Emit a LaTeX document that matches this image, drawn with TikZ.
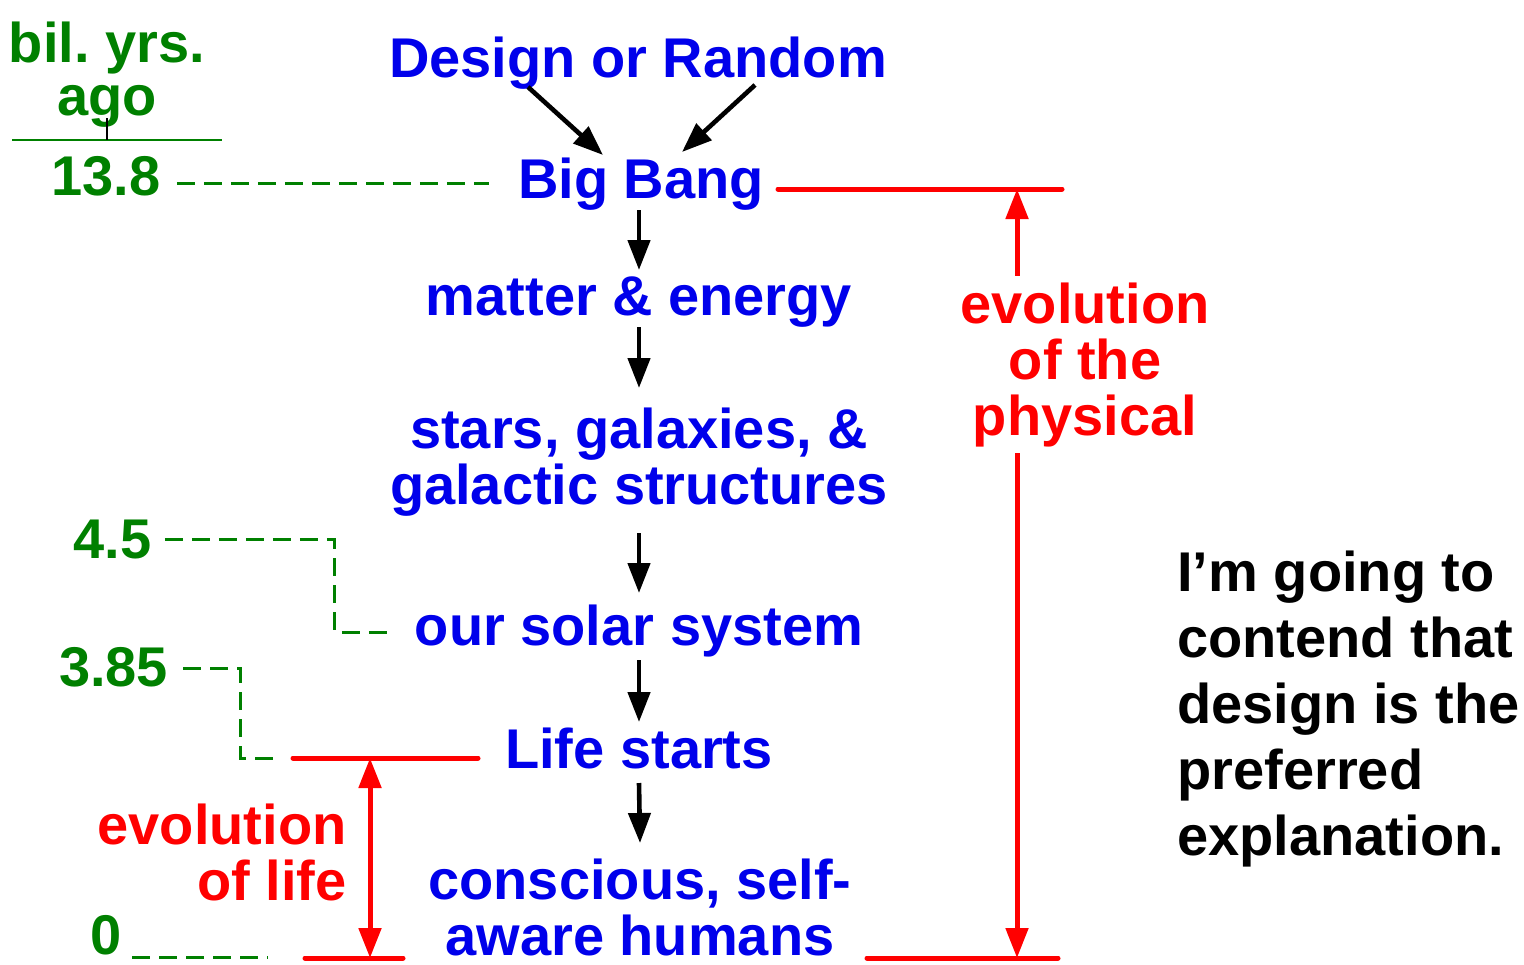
\documentclass[tikz,border=0pt]{standalone}
\usepackage{fontspec}
\setmainfont{Liberation Sans}
\frenchspacing
\usetikzlibrary{arrows.meta,calc}
\definecolor{evblue}{RGB}{0,0,235}
\definecolor{yrgreen}{RGB}{0,128,0}
\definecolor{evred}{RGB}{255,0,0}
\tikzset{
  txt/.style={inner sep=0pt, font=\fontsize{28}{28}\selectfont\bfseries},
  ev/.style={txt, text=evblue, align=center, anchor=base},
  yr/.style={txt, text=yrgreen, anchor=base},
  redtxt/.style={txt, text=evred, anchor=base},
  arr/.style={draw=black, line width=2.3pt, -{Triangle[length=15pt,width=11pt]}},
  redbar/.style={draw=evred, line width=2.5pt, line cap=round},
  redarr/.style={draw=evred, line width=2.5pt, {Triangle[length=15pt,width=11pt]}-{Triangle[length=15pt,width=11pt]}},
  yrdash/.style={draw=yrgreen, line width=1.5pt, dash pattern=on 9pt off 4.5pt},
}
\begin{document}
\begin{tikzpicture}[x=0.5pt,y=-0.5pt]
\useasboundingbox (0,0) rectangle (1524,964);
\fill[white] (0,0) rectangle (1524,964);

% event chain (base anchor of a multi-line node = baseline of its last line)
\node[ev] (design) at (638,77) {Design or Random};
\node[ev] (bigbang) at (641,198) {Big Bang};
\node[ev] (matter) at (639,315) {matter \& energy};
\node[ev] (stars) at (639,504) {stars, galaxies, \&\\galactic structures};
\node[ev] (solar) at (639,645) {our solar system};
\node[ev] (life) at (639,768) {Life starts};
\node[ev] (humans) at (640,955) {conscious, self-\\aware humans};

\draw[arr] ($(design.base)+(-110,10)$) -- ($(bigbang.base)+(-38,-43)$);
\draw[arr] ($(design.base)+(117,8)$) -- ($(bigbang.base)+(41,-46)$);
\draw[arr] ($(bigbang.base)+(-2,12)$) -- ($(matter.base)+(0,-45)$);
\draw[arr] ($(matter.base)+(0,12)$) -- ($(stars.base)+(0,-116)$);
\draw[arr] ($(stars.base)+(0,29)$) -- ($(solar.base)+(0,-52)$);
\draw[arr] ($(solar.base)+(0,15)$) -- ($(life.base)+(0,-46)$);
\draw[arr] ($(life.base)+(0,15)$) -- ($(humans.base)+(0,-112)$);

% time axis
\node[yr, align=center, font=\fontsize{28}{26.5}\selectfont\bfseries] (bil) at (107,115) {bil. yrs.\\ago};
\draw[draw=yrgreen, line width=1.2pt] (12,140) -- (222,140);
\draw[black, line width=0.6pt] (107,118) -- (107,140);
\node[yr] (y138) at (106,195) {13.8};
\node[yr] (y45) at (112.5,558) {4.5};
\node[yr] (y385) at (113.5,686) {3.85};
\node[yr] (y0) at (106.5,954) {0};

% red brackets
\coordinate (pt1) at (778,189);
\coordinate (pt2) at (1062,189);
\coordinate (pb1) at (867,958);
\coordinate (pb2) at (1058,958);
\coordinate (pa) at (1017,189);
\coordinate (pb) at (1017,958);
\coordinate (lt1) at (293,758);
\coordinate (lt2) at (478,758);
\coordinate (lb1) at (305,958);
\coordinate (lb2) at (403,958);
\coordinate (la) at (370,758);
\coordinate (lb) at (370,958);

\draw[redbar] (pt1) -- (pt2);
\draw[redbar] (pb1) -- (pb2);
\draw[redarr] (pa) -- (pb);
\draw[redbar] (lt1) -- (lt2);
\draw[redbar] (lb1) -- (lb2);
\draw[redarr] (la) -- (lb);

\node[redtxt, align=center, fill=white, inner sep=3pt] (phys) at (1085,435) {evolution\\of the\\physical};
\node[redtxt, align=right, anchor=base east] (lifeev) at (347,900) {evolution\\of life};

% green dashed guides
\draw[yrdash] ($(y138.base east)+(16,-12)$) -- ($(bigbang.base west)+(-29,-15)$);
\draw[yrdash] ($(y45.base east)+(13,-19)$) -- ++(170,0) -- ++(0,93) -- ($(solar.base west)+(-27,-13)$);
\draw[yrdash] ($(y385.base east)+(15,-18)$) -- ++(57,0) -- ++(0,90) -- ($(lt1)+(-14,0)$);
\draw[yrdash] ($(y0.base east)+(10,3)$) -- ($(lb1)+(-37,-1)$);

% claim
\node[txt, text=black, align=left, anchor=base west, font=\fontsize{28}{33}\selectfont\bfseries] (claim) at (1177,855) {I’m going to\\contend that\\design is the\\preferred\\explanation.};
\end{tikzpicture}
\end{document}
